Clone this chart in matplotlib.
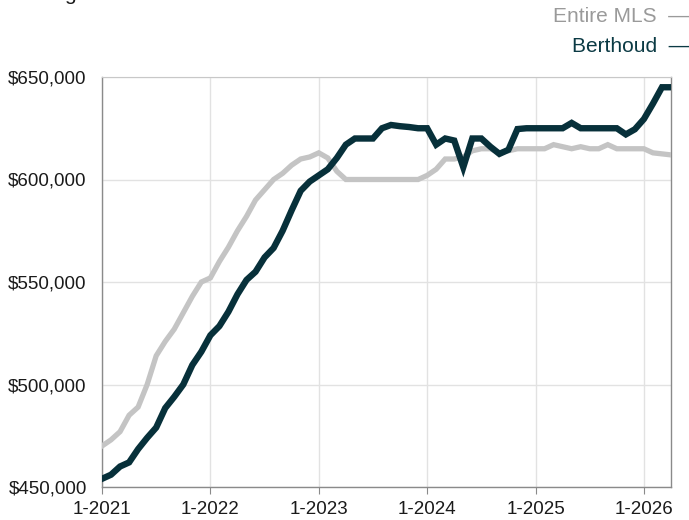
import matplotlib.pyplot as plt
import numpy as np

plt.rcParams['font.family'] = ['Liberation Sans', 'DejaVu Sans']

# --- DATA ---
# monthly values, Jan 2021 .. Apr 2026
entire_mls = [470, 473, 477, 485, 489, 500, 514, 521, 527, 535, 543, 550,
              552, 560, 567, 575, 582, 590, 595, 600, 603, 607, 610, 611,
              613, 610.5, 604, 600, 600, 600, 600, 600, 600, 600, 600, 600,
              602, 605, 610, 610, 611, 614, 615, 615, 613, 614, 615, 615,
              615, 615, 617, 616, 615, 616, 615, 615, 617, 615, 615, 615,
              615, 613, 612.5, 612]
berthoud = [454, 456, 460, 462, 468.5, 474, 479, 488.5, 494, 500, 509.5, 516,
            524, 528.5, 535.5, 544, 551, 555, 562, 566.6, 575, 585, 594.5, 599,
            602, 605, 610.5, 617, 620, 620, 620, 625, 626.6, 626, 625.6, 625,
            625, 617, 620, 619, 606, 620, 620, 616, 612.5, 614.5, 624.6, 625,
            625, 625, 625, 625, 627.6, 625, 625, 625, 625, 625, 622, 624.5,
            629.5, 637, 645, 645]
year_labels = ['1-2021', '1-2022', '1-2023', '1-2024', '1-2025', '1-2026']

months = np.arange(len(berthoud))
grey = '#c4c4c4'
dark = '#07303a'

fig = plt.figure(figsize=(6.89, 5.2), dpi=100)
ax = fig.add_axes([102 / 689, 33 / 520, 569 / 689, 410 / 520])

ax.plot(months, np.array(entire_mls) * 1000, color=grey, lw=3.8,
        solid_joinstyle='miter', zorder=3)
ax.plot(months, np.array(berthoud) * 1000, color=dark, lw=4.6,
        solid_joinstyle='miter', zorder=4)

ax.set_xlim(0, 63)
ax.set_ylim(450000, 650000)
ax.set_xticks(np.arange(0, 61, 12))
ax.set_xticklabels(year_labels)
ax.set_yticks(np.arange(450000, 650001, 50000))
ax.set_yticklabels([f'${v:,}' for v in range(450000, 650001, 50000)])

ax.grid(True, color='#e2e2e2', lw=1.0, zorder=0)
for side in ['left', 'bottom', 'right']:
    ax.spines[side].set_color('#8a8a8a')
    ax.spines[side].set_linewidth(1.0)
ax.spines['top'].set_color('#c8c8c8')
ax.tick_params(axis='y', length=0, pad=11, labelsize=13.5, labelcolor='#1a1a1a')
ax.tick_params(axis='x', length=5, color='#8a8a8a', pad=5, labelsize=13.5,
               labelcolor='#1a1a1a')

# legend as text at the top right
fig.text(1.0, 1 - 16 / 520, 'Entire MLS  \u2014', ha='right', va='center',
         fontsize=15, color='#9a9a9a')
fig.text(1.0, 1 - 46 / 520, 'Berthoud  \u2014', ha='right', va='center',
         fontsize=15, color='#0b3a44')

# title, cut off at the top edge as in the original
fig.text(42 / 689, 1.0, 'Avg', ha='left', va='baseline', fontsize=15,
         color='#1a1a1a')

plt.savefig('out.png', dpi=100)
